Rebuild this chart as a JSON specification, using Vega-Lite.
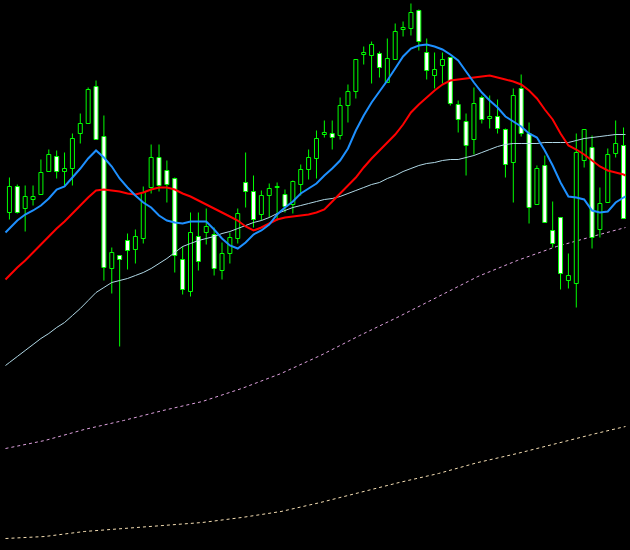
{
"$schema": "https://vega.github.io/schema/vega-lite/v6.json",
"width": 630, "height": 550,
"autosize": {"type": "fit", "contains": "padding"},
"padding": 0,
"background": "#000000",
"config": {"view": {"stroke": null}},
"datasets": {
"candles": [
{"i":0,"o":338,"h":373,"l":331,"c":364},{"i":1,"o":364,"h":366,"l":337,"c":338},{"i":2,"o":342,"h":365,"l":319,"c":354},{"i":3,"o":351,"h":365,"l":345,"c":354},{"i":4,"o":356,"h":391,"l":356,"c":378},{"i":5,"o":379,"h":401,"l":379,"c":396},{"i":6,"o":394,"h":400,"l":372,"c":379},{"i":7,"o":379,"h":398,"l":365,"c":382},{"i":8,"o":382,"h":417,"l":365,"c":412},{"i":9,"o":417,"h":437,"l":407,"c":427},
{"i":10,"o":427,"h":463,"l":427,"c":461},{"i":11,"o":464,"h":470,"l":411,"c":411},{"i":12,"o":414,"h":435,"l":270,"c":283},{"i":13,"o":282,"h":303,"l":257,"c":298},{"i":14,"o":295,"h":295,"l":204,"c":291},{"i":15,"o":310,"h":317,"l":281,"c":300},{"i":16,"o":301,"h":321,"l":287,"c":314},{"i":17,"o":312,"h":364,"l":307,"c":358},{"i":18,"o":363,"h":406,"l":357,"c":393},{"i":19,"o":393,"h":406,"l":359,"c":365},
{"i":20,"o":380,"h":390,"l":348,"c":366},{"i":21,"o":372,"h":373,"l":278,"c":295},{"i":22,"o":291,"h":304,"l":256,"c":261},{"i":23,"o":259,"h":338,"l":254,"c":318},{"i":24,"o":314,"h":338,"l":280,"c":289},{"i":25,"o":318,"h":342,"l":306,"c":324},{"i":26,"o":316,"h":323,"l":275,"c":282},{"i":27,"o":280,"h":308,"l":271,"c":297},{"i":28,"o":297,"h":318,"l":287,"c":313},{"i":29,"o":312,"h":342,"l":307,"c":337},
{"i":30,"o":368,"h":398,"l":343,"c":359},{"i":31,"o":359,"h":375,"l":323,"c":331},{"i":32,"o":336,"h":360,"l":330,"c":355},{"i":33,"o":355,"h":367,"l":333,"c":362},{"i":34,"o":363,"h":368,"l":330,"c":364},{"i":35,"o":356,"h":361,"l":338,"c":344},{"i":36,"o":346,"h":370,"l":337,"c":369},{"i":37,"o":366,"h":386,"l":355,"c":381},{"i":38,"o":381,"h":401,"l":371,"c":393},{"i":39,"o":392,"h":420,"l":372,"c":412},
{"i":40,"o":416,"h":430,"l":413,"c":418},{"i":41,"o":417,"h":430,"l":401,"c":413},{"i":42,"o":415,"h":453,"l":411,"c":445},{"i":43,"o":445,"h":466,"l":428,"c":459},{"i":44,"o":459,"h":491,"l":452,"c":491},{"i":45,"o":496,"h":504,"l":486,"c":498},{"i":46,"o":495,"h":509,"l":467,"c":506},{"i":47,"o":497,"h":499,"l":473,"c":483},{"i":48,"o":468,"h":512,"l":468,"c":492},{"i":49,"o":491,"h":527,"l":491,"c":519},
{"i":50,"o":521,"h":529,"l":514,"c":523},{"i":51,"o":522,"h":547,"l":515,"c":538},{"i":52,"o":540,"h":541,"l":500,"c":509},{"i":53,"o":498,"h":512,"l":471,"c":480},{"i":54,"o":475,"h":498,"l":462,"c":481},{"i":55,"o":485,"h":498,"l":467,"c":491},{"i":56,"o":493,"h":493,"l":445,"c":447},{"i":57,"o":446,"h":450,"l":418,"c":431},{"i":58,"o":429,"h":437,"l":375,"c":405},{"i":59,"o":411,"h":463,"l":396,"c":447},
{"i":60,"o":453,"h":455,"l":427,"c":431},{"i":61,"o":432,"h":455,"l":422,"c":434},{"i":62,"o":434,"h":451,"l":417,"c":422},{"i":63,"o":421,"h":422,"l":373,"c":386},{"i":64,"o":388,"h":462,"l":348,"c":455},{"i":65,"o":462,"h":476,"l":414,"c":417},{"i":66,"o":417,"h":428,"l":327,"c":343},{"i":67,"o":346,"h":385,"l":346,"c":382},{"i":68,"o":385,"h":395,"l":328,"c":328},{"i":69,"o":320,"h":349,"l":303,"c":307},
{"i":70,"o":333,"h":333,"l":261,"c":277},{"i":71,"o":270,"h":297,"l":262,"c":275},{"i":72,"o":267,"h":417,"l":243,"c":398},{"i":73,"o":390,"h":421,"l":383,"c":421},{"i":74,"o":403,"h":415,"l":302,"c":313},{"i":75,"o":321,"h":363,"l":313,"c":347},{"i":76,"o":348,"h":402,"l":348,"c":396},{"i":77,"o":397,"h":430,"l":393,"c":407},{"i":78,"o":405,"h":423,"l":332,"c":332}
],
"fast": [
{"i":-0.5,"v":318},{"i":0,"v":322},{"i":1,"v":330},{"i":2,"v":336},{"i":3,"v":340},{"i":4,"v":345},{"i":5,"v":352},{"i":6,"v":361},{"i":7,"v":364},{"i":8,"v":373},{"i":9,"v":382},{"i":10,"v":392},{"i":11,"v":400},{"i":12,"v":393},{"i":13,"v":384},{"i":14,"v":372},{"i":15,"v":363},{"i":16,"v":355},{"i":17,"v":348},{"i":18,"v":343},{"i":19,"v":335},{"i":20,"v":330},{"i":21,"v":328},{"i":22,"v":327},{"i":23,"v":329},{"i":24,"v":329},{"i":25,"v":329},{"i":26,"v":321},{"i":27,"v":312},{"i":28,"v":305},{"i":29,"v":302},{"i":30,"v":308},{"i":31,"v":316},{"i":32,"v":320},{"i":33,"v":326},{"i":34,"v":336},{"i":35,"v":343},{"i":36,"v":349},{"i":37,"v":357},{"i":38,"v":362},{"i":39,"v":367},{"i":40,"v":375},{"i":41,"v":382},{"i":42,"v":390},{"i":43,"v":402},{"i":44,"v":420},{"i":45,"v":435},{"i":46,"v":448},{"i":47,"v":459},{"i":48,"v":470},{"i":49,"v":482},{"i":50,"v":494},{"i":51,"v":502},{"i":52,"v":505},{"i":53,"v":506},{"i":54,"v":504},{"i":55,"v":501},{"i":56,"v":496},{"i":57,"v":490},{"i":58,"v":479},{"i":59,"v":468},{"i":60,"v":458},{"i":61,"v":450},{"i":62,"v":443},{"i":63,"v":434},{"i":64,"v":429},{"i":65,"v":424},{"i":66,"v":417},{"i":67,"v":413},{"i":68,"v":400},{"i":69,"v":385},{"i":70,"v":368},{"i":71,"v":354},{"i":72,"v":353},{"i":73,"v":351},{"i":74,"v":340},{"i":75,"v":338},{"i":76,"v":339},{"i":77,"v":348},{"i":78,"v":353},{"i":78.25,"v":354}
],
"mid": [
{"i":-0.5,"v":271},{"i":0,"v":275},{"i":1,"v":283},{"i":2,"v":290},{"i":3,"v":298},{"i":4,"v":306},{"i":5,"v":314},{"i":6,"v":322},{"i":7,"v":329},{"i":8,"v":337},{"i":9,"v":345},{"i":10,"v":353},{"i":11,"v":360},{"i":12,"v":361},{"i":13,"v":360},{"i":14,"v":359},{"i":15,"v":357},{"i":16,"v":356},{"i":17,"v":358},{"i":18,"v":361},{"i":19,"v":363},{"i":20,"v":363},{"i":21,"v":361},{"i":22,"v":357},{"i":23,"v":354},{"i":24,"v":350},{"i":25,"v":346},{"i":26,"v":342},{"i":27,"v":338},{"i":28,"v":334},{"i":29,"v":330},{"i":30,"v":324},{"i":31,"v":320},{"i":32,"v":323},{"i":33,"v":327},{"i":34,"v":331},{"i":35,"v":333},{"i":36,"v":334},{"i":37,"v":335},{"i":38,"v":336},{"i":39,"v":338},{"i":40,"v":341},{"i":41,"v":349},{"i":42,"v":357},{"i":43,"v":365},{"i":44,"v":373},{"i":45,"v":383},{"i":46,"v":392},{"i":47,"v":400},{"i":48,"v":408},{"i":49,"v":416},{"i":50,"v":426},{"i":51,"v":438},{"i":52,"v":446},{"i":53,"v":453},{"i":54,"v":460},{"i":55,"v":466},{"i":56,"v":470},{"i":57,"v":471},{"i":58,"v":472},{"i":59,"v":473},{"i":60,"v":474},{"i":61,"v":475},{"i":62,"v":473},{"i":63,"v":471},{"i":64,"v":469},{"i":65,"v":466},{"i":66,"v":460},{"i":67,"v":452},{"i":68,"v":441},{"i":69,"v":431},{"i":70,"v":417},{"i":71,"v":405},{"i":72,"v":401},{"i":73,"v":396},{"i":74,"v":390},{"i":75,"v":384},{"i":76,"v":380},{"i":77,"v":378},{"i":78,"v":376},{"i":78.25,"v":375}
],
"slow": [
{"i":-0.5,"v":185},{"i":0,"v":188},{"i":1,"v":194},{"i":2,"v":200},{"i":3,"v":206},{"i":4,"v":212},{"i":5,"v":217},{"i":6,"v":223},{"i":7,"v":228},{"i":8,"v":235},{"i":9,"v":242},{"i":10,"v":250},{"i":11,"v":258},{"i":12,"v":263},{"i":13,"v":268},{"i":14,"v":270},{"i":15,"v":272},{"i":16,"v":275},{"i":17,"v":278},{"i":18,"v":282},{"i":19,"v":287},{"i":20,"v":292},{"i":21,"v":298},{"i":22,"v":304},{"i":23,"v":307},{"i":24,"v":310},{"i":25,"v":312},{"i":26,"v":314},{"i":27,"v":317},{"i":28,"v":319},{"i":29,"v":322},{"i":30,"v":325},{"i":31,"v":328},{"i":32,"v":330},{"i":33,"v":333},{"i":34,"v":337},{"i":35,"v":340},{"i":36,"v":343},{"i":37,"v":345},{"i":38,"v":347},{"i":39,"v":349},{"i":40,"v":351},{"i":41,"v":352},{"i":42,"v":354},{"i":43,"v":357},{"i":44,"v":360},{"i":45,"v":363},{"i":46,"v":366},{"i":47,"v":368},{"i":48,"v":372},{"i":49,"v":375},{"i":50,"v":379},{"i":51,"v":382},{"i":52,"v":385},{"i":53,"v":387},{"i":54,"v":388},{"i":55,"v":390},{"i":56,"v":391},{"i":57,"v":391},{"i":58,"v":393},{"i":59,"v":395},{"i":60,"v":398},{"i":61,"v":401},{"i":62,"v":404},{"i":63,"v":406},{"i":64,"v":407},{"i":65,"v":407},{"i":66,"v":407},{"i":67,"v":407},{"i":68,"v":408},{"i":69,"v":408},{"i":70,"v":408},{"i":71,"v":408},{"i":72,"v":410},{"i":73,"v":412},{"i":74,"v":413},{"i":75,"v":414},{"i":76,"v":415},{"i":77,"v":416},{"i":78,"v":416},{"i":78.25,"v":416}
],
"pink": [
{"i":-0.5,"v":102},{"i":4.5,"v":110},{"i":9.5,"v":121},{"i":14.5,"v":130},{"i":19.5,"v":140},{"i":24.5,"v":149},{"i":29.5,"v":162},{"i":34.5,"v":177},{"i":39.5,"v":195},{"i":44.5,"v":215},{"i":49.5,"v":234},{"i":54.5,"v":254},{"i":59.5,"v":274},{"i":64.5,"v":290},{"i":69.5,"v":304},{"i":74.5,"v":315},{"i":78.25,"v":323}
],
"yellow": [
{"i":-0.5,"v":12},{"i":4.5,"v":14},{"i":9.5,"v":19},{"i":14.5,"v":22},{"i":19.5,"v":25},{"i":24.5,"v":28},{"i":29.5,"v":33},{"i":34.5,"v":39},{"i":39.5,"v":48},{"i":44.5,"v":58},{"i":49.5,"v":68},{"i":54.5,"v":77},{"i":59.5,"v":88},{"i":64.5,"v":97},{"i":69.5,"v":107},{"i":74.5,"v":117},{"i":78.25,"v":124}
]
},
"layer": [
{"data": {"name": "yellow"}, "mark": {"type": "line", "color": "#F5DEB3", "strokeWidth": 1, "strokeDash": [3, 3], "clip": true},
 "encoding": {"x": {"field": "i", "type": "quantitative", "scale": {"domain": [-0.5625, 78.1875], "nice": false, "zero": false}, "axis": null}, "y": {"field": "v", "type": "quantitative", "scale": {"domain": [0.5, 550.5], "nice": false, "zero": false}, "axis": null}}},
{"data": {"name": "pink"}, "mark": {"type": "line", "color": "#DDA0DD", "strokeWidth": 1, "strokeDash": [3, 3], "clip": true},
 "encoding": {"x": {"field": "i", "type": "quantitative"}, "y": {"field": "v", "type": "quantitative"}}},
{"data": {"name": "candles"}, "mark": {"type": "rule", "color": "#00FF00", "strokeWidth": 1, "clip": true},
 "encoding": {"x": {"field": "i", "type": "quantitative"}, "y": {"field": "l", "type": "quantitative"}, "y2": {"field": "h"}}},
{"data": {"name": "candles"}, "mark": {"type": "bar", "size": 4, "stroke": "#00FF00", "strokeWidth": 1, "clip": true},
 "encoding": {"x": {"field": "i", "type": "quantitative"}, "y": {"field": "o", "type": "quantitative"}, "y2": {"field": "c"},
  "fill": {"condition": {"test": "datum.c < datum.o", "value": "#FFFFFF"}, "value": "#000000"}}},
{"data": {"name": "slow"}, "mark": {"type": "line", "color": "#B0D8E6", "strokeWidth": 1, "clip": true},
 "encoding": {"x": {"field": "i", "type": "quantitative"}, "y": {"field": "v", "type": "quantitative"}}},
{"data": {"name": "mid"}, "mark": {"type": "line", "color": "#FF0000", "strokeWidth": 2, "clip": true},
 "encoding": {"x": {"field": "i", "type": "quantitative"}, "y": {"field": "v", "type": "quantitative"}}},
{"data": {"name": "fast"}, "mark": {"type": "line", "color": "#1E90FF", "strokeWidth": 2, "clip": true},
 "encoding": {"x": {"field": "i", "type": "quantitative"}, "y": {"field": "v", "type": "quantitative"}}}
]
}
